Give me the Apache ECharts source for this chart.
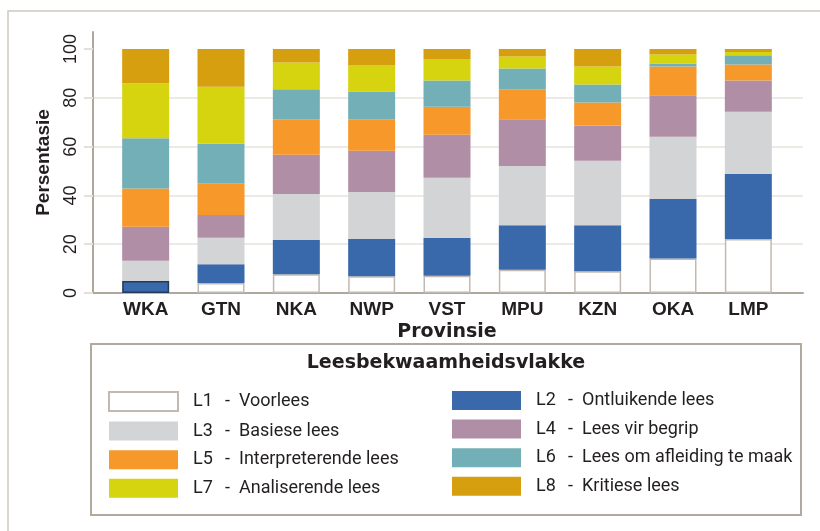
<!DOCTYPE html>
<html>
<head>
<meta charset="utf-8">
<script src="https://cdn.jsdelivr.net/npm/echarts@6/dist/echarts.min.js"></script>
<style>
  html, body { margin: 0; padding: 0; background: #fff; }
  #container { width: 820px; height: 531px; }
</style>
</head>
<body>
<div id="container"></div>
<script>
// provinces on the x axis
const provinces = ['WKA', 'GTN', 'NKA', 'NWP', 'VST', 'MPU', 'KZN', 'OKA', 'LMP'];
const yTicks = [0, 20, 40, 60, 80, 100];

// percentage of learners per reading level
const L1 = [0, 4.1, 7.7, 6.9, 7.1, 9.5, 8.9, 14.1, 22.1];
const L2 = [4.9, 7.7, 14.0, 15.2, 15.4, 18.3, 18.9, 24.4, 26.7];
const L3 = [8.3, 10.8, 18.9, 19.3, 24.7, 24.3, 26.4, 25.6, 25.5];
const L4 = [14.0, 9.4, 16.1, 16.9, 17.7, 19.1, 14.5, 17.0, 12.8];
const L5 = [15.6, 13.0, 14.5, 12.9, 11.5, 12.3, 9.4, 11.8, 6.6];
const L6 = [20.6, 16.2, 12.3, 11.4, 10.7, 8.5, 7.4, 1.2, 3.8];
const L7 = [22.6, 23.4, 11.0, 10.7, 8.6, 5.0, 7.4, 3.7, 1.3];
const L8 = [14.0, 15.4, 5.5, 6.7, 4.3, 3.0, 7.1, 2.2, 1.2];

const levels = ['L1', 'L2', 'L3', 'L4', 'L5', 'L6', 'L7', 'L8'];
const levelNames = ['Voorlees', 'Ontluikende lees', 'Basiese lees', 'Lees vir begrip',
    'Interpreterende lees', 'Lees om afleiding te maak', 'Analiserende lees', 'Kritiese lees'];
const values = [L1, L2, L3, L4, L5, L6, L7, L8];
const colors = ['#ffffff', '#3968ab', '#d3d4d6', '#b08fa6', '#f7982a', '#72afb6', '#d6d30f', '#d69f10'];

const textColor = '#231f20';
const axisColor = '#b0a69c';
const legendFont = 'Roboto, sans-serif';

const myChart = echarts.init(document.getElementById('container'));

const series = levels.map((lv, k) => ({
    name: lv,
    type: 'bar',
    stack: 'total',
    xAxisIndex: 1,
    yAxisIndex: 1,
    barWidth: 47,
    itemStyle: k === 0
        ? { color: colors[k], borderColor: '#c2bab2', borderWidth: 1.5 }
        : { color: colors[k] },
    data: values[k].map((v, i) => (k === 1 && i === 0)
        ? { value: v, itemStyle: { borderColor: '#26395a', borderWidth: 1.5 } }
        : v),
}));

const legendLabel = {
    fontFamily: legendFont,
    fontSize: 18,
    lineHeight: 19,
    color: textColor,
    rich: {
        a: { fontFamily: legendFont, fontSize: 18, lineHeight: 19, color: textColor, width: 32, padding: [0, 0, 0, 10] },
        b: { fontFamily: legendFont, fontSize: 18, lineHeight: 19, color: textColor, width: 14 },
        c: { fontFamily: legendFont, fontSize: 18, lineHeight: 19, color: textColor },
    },
};
const fmt = (name) => `{a|${name}}{b|-}{c|${levelNames[levels.indexOf(name)]}}`;

const legendBase = {
    orient: 'vertical',
    top: 391,
    padding: 0,
    itemWidth: 69,
    itemHeight: 19,
    itemGap: 9.6,
    icon: 'rect',
    selectedMode: false,
    formatter: fmt,
    textStyle: legendLabel,
};

const option = {
    animation: false,
    title: {
        text: 'Leesbekwaamheidsvlakke',
        left: 441,
        top: 349,
        textAlign: 'center',
        textStyle: { fontFamily: 'DejaVu Sans', fontSize: 19, fontWeight: 'bold', color: textColor },
    },
    legend: [
        Object.assign({}, legendBase, { data: ['L1', 'L3', 'L5', 'L7'], left: 108 }),
        Object.assign({}, legendBase, { data: ['L2', 'L4', 'L6', 'L8'], left: 452 }),
    ],
    grid: [
        { left: 93, right: 17, top: 32, bottom: 238 },
        { left: 108, right: 34, top: 32, bottom: 238 },
    ],
    xAxis: [
        {
            gridIndex: 0,
            type: 'value',
            min: 0,
            max: 1,
            axisLine: { show: true, lineStyle: { color: axisColor, width: 2 } },
            axisTick: { show: false },
            axisLabel: { show: false },
            splitLine: { show: false },
        },
        {
            gridIndex: 1,
            type: 'category',
            data: provinces,
            axisLine: { show: false },
            axisTick: { show: false },
            axisLabel: { margin: 7, fontFamily: 'Liberation Sans', fontSize: 19, fontWeight: 'bold', color: textColor },
            name: 'Provinsie',
            nameLocation: 'middle',
            nameGap: 30,
            nameTextStyle: { fontFamily: 'DejaVu Sans', fontSize: 19, fontWeight: 'bold', color: textColor },
        },
    ],
    yAxis: [
        {
            gridIndex: 0,
            type: 'value',
            min: 0,
            max: 107,
            interval: 20,
            axisLine: { show: true, lineStyle: { color: axisColor, width: 2 } },
            axisTick: { show: true, length: 9, customValues: yTicks, lineStyle: { color: '#e6e0da', width: 2 } },
            axisLabel: {
                customValues: yTicks,
                rotate: 90,
                margin: 13,
                fontFamily: 'Liberation Sans',
                fontSize: 18,
                color: textColor,
            },
            splitLine: { show: true, showMaxLine: false, lineStyle: { color: '#ede9e5', width: 2 } },
            name: 'Persentasie',
            nameLocation: 'middle',
            nameGap: 40,
            nameTextStyle: { fontFamily: 'Liberation Sans', fontSize: 19, fontWeight: 'bold', color: textColor },
        },
        {
            gridIndex: 1,
            type: 'value',
            min: 0,
            max: 107,
            show: false,
        },
    ],
    graphic: [
        {
            type: 'polyline',
            shape: { points: [[8, 531], [8, 11], [820, 11]] },
            style: { stroke: '#cfc8c1', lineWidth: 1.5, fill: null },
            silent: true,
        },
        {
            type: 'rect',
            shape: { x: 91, y: 344, width: 710, height: 171 },
            style: { stroke: '#b3a99f', lineWidth: 2, fill: null },
            silent: true,
        },
    ],
    series: series,
};
myChart.setOption(option);
window.addEventListener('resize', () => {
    myChart.resize()
})
</script>
</body>
</html>
